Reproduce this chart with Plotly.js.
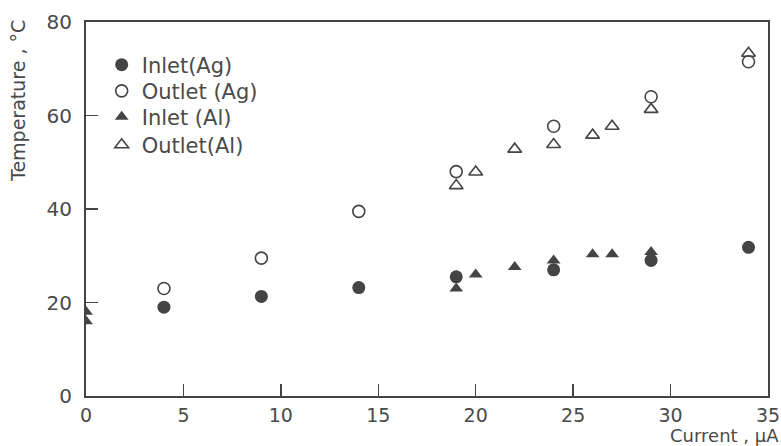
<!DOCTYPE html>
<html><head><meta charset="utf-8">
<script src="https://cdn.plot.ly/plotly-3.0.1.min.js"></script>
<style>html,body{margin:0;padding:0;background:#fff}#chart{width:781px;height:446px}</style>
</head><body><div id="chart"></div>
<script>
var seriesNames = ["Inlet(Ag)", "Outlet (Ag)", "Inlet (Al)", "Outlet(Al)"];
var inletAgX = [4, 9, 14, 19, 24, 29, 34];
var inletAgY = [19, 21.3, 23.2, 25.5, 27, 29, 31.8];
var outletAgX = [4, 9, 14, 19, 24, 29, 34];
var outletAgY = [23, 29.5, 39.5, 48, 57.7, 64, 71.5];
var inletAlX = [0, 0, 19, 20, 22, 24, 26, 27, 29];
var inletAlY = [18, 16, 23, 26, 27.6, 29, 30.3, 30.3, 30.8];
var outletAlX = [19, 20, 22, 24, 26, 27, 29, 34];
var outletAlY = [45, 47.9, 52.8, 53.8, 55.8, 57.7, 61.3, 73.3];
var xTicks = [0, 5, 10, 15, 20, 25, 30, 35];
var yTicks = [0, 20, 40, 60, 80];

var ink = "#444444";
var fam = "DejaVu Sans";
var tickFont = {family: fam, size: 20, color: "#4a4a4a"};
var xTickFont = {family: fam, size: 19, color: "#4a4a4a"};
var legFont = {family: fam, size: 21, color: "#4a4a4a"};

var traces = [
  {x: inletAgX, y: inletAgY, name: seriesNames[0], mode: "markers", type: "scatter", legend: "legend",
   marker: {symbol: "circle", size: 13, color: ink}},
  {x: outletAgX, y: outletAgY, name: seriesNames[1], mode: "markers", type: "scatter", legend: "legend2",
   marker: {symbol: "circle-open", size: 12, color: ink, line: {width: 1.6, color: ink}}},
  {x: inletAlX, y: inletAlY, name: seriesNames[2], mode: "markers", type: "scatter", legend: "legend3",
   marker: {symbol: "triangle-up", size: 12, color: ink}},
  {x: outletAlX, y: outletAlY, name: seriesNames[3], mode: "markers", type: "scatter", legend: "legend4",
   marker: {symbol: "triangle-up-open", size: 12, color: ink, line: {width: 1.6, color: ink}}}
];

function leg(y) {
  return {x: 0.023, y: y, xanchor: "left", yanchor: "middle", bgcolor: "rgba(0,0,0,0)",
          font: legFont, itemwidth: 30, borderwidth: 0};
}

var layout = {
  width: 781, height: 446,
  margin: {l: 86, r: 13, t: 22, b: 50},
  paper_bgcolor: "#fff", plot_bgcolor: "#fff",
  font: tickFont,
  showlegend: true,
  legend: leg(0.885), legend2: leg(0.815), legend3: leg(0.746), legend4: leg(0.671),
  xaxis: {range: [0, 35], tickvals: xTicks, ticktext: xTicks.map(String),
          showgrid: false, zeroline: false, showline: true, mirror: true,
          linecolor: ink, linewidth: 2, ticks: "inside", ticklen: 12, tickwidth: 1.5,
          tickcolor: ink, tickfont: xTickFont, ticklabelstandoff: 1},
  yaxis: {range: [0, 80], tickvals: yTicks, ticktext: yTicks.map(String),
          showgrid: false, zeroline: false, showline: true, mirror: true,
          linecolor: ink, linewidth: 2, ticks: "inside", ticklen: 12, tickwidth: 1.5,
          tickcolor: ink, tickfont: tickFont, ticklabelstandoff: 8},
  annotations: [
    {text: "Current , μA", xref: "paper", yref: "paper", x: 1, y: 0, xanchor: "right", yanchor: "top",
     xshift: 12, yshift: -28, borderpad: 0, showarrow: false, font: {family: fam, size: 18, color: "#4a4a4a"}},
    {text: "Temperature , °C", xref: "paper", yref: "paper", x: 0, y: 1, xanchor: "center", yanchor: "top",
     xshift: -68, yshift: 4, textangle: -90, showarrow: false, font: {family: fam, size: 19, color: "#4a4a4a"}}
  ]
};
Plotly.newPlot("chart", traces, layout, {displayModeBar: false, staticPlot: true});
</script></body></html>
